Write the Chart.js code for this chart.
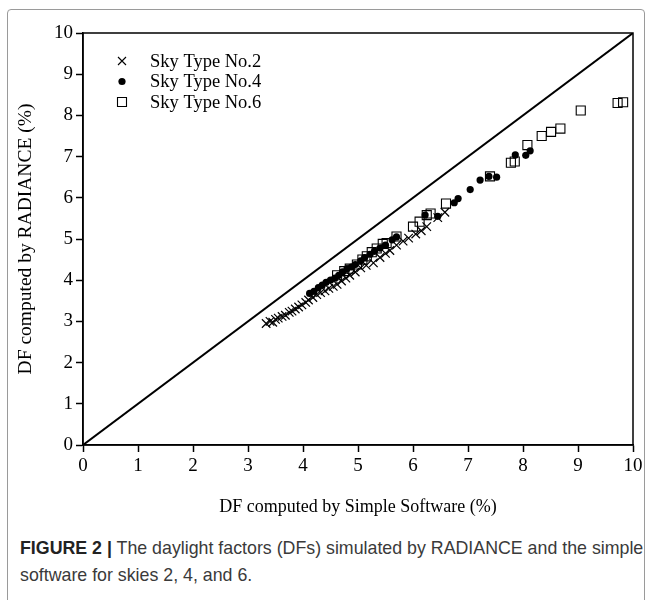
<!DOCTYPE html>
<html>
<head>
<meta charset="utf-8">
<script src="https://cdn.jsdelivr.net/npm/chart.js@4.4.1/dist/chart.umd.min.js"></script>
<style>
  body { margin: 0; background: #fff; width: 652px; height: 600px; position: relative; overflow: hidden; }
  #frame { position: absolute; left: 7px; top: 9px; width: 636px; height: 600px; border: 1.5px solid #9a9a9a; border-radius: 4px; }
  #wrap { position: absolute; left: 0; top: 0; width: 652px; height: 520px; }
  #caption { position: absolute; left: 20px; top: 535px; font-family: "Liberation Sans", Arial, sans-serif; font-size: 17.8px; line-height: 27px; color: #3a3a3a; white-space: nowrap; }
  #caption b { color: #222; }
</style>
</head>
<body>
<div id="frame"></div>
<div id="wrap"><canvas id="dfChart"></canvas></div>
<div id="caption"><b>FIGURE 2 |</b> The daylight factors (DFs) simulated by RADIANCE and the simple<br>software for skies 2, 4, and 6.</div>
<script>
const axisTicks = [0, 1, 2, 3, 4, 5, 6, 7, 8, 9, 10];

// Sky Type No.2 (crosses)
const sky2X = [3.33, 3.40, 3.45, 3.50, 3.55, 3.62, 3.68, 3.75, 3.80, 3.86, 3.92, 3.98, 4.05, 4.10, 4.18, 4.25, 4.32, 4.40, 4.47, 4.55, 4.62, 4.70, 4.78, 4.85, 4.95, 5.05, 5.15, 5.28, 5.40, 5.50, 5.58, 5.70, 5.82, 5.92, 6.05, 6.15, 6.25, 6.45, 6.58];
const sky2Y = [2.95, 3.00, 2.98, 3.05, 3.08, 3.12, 3.15, 3.22, 3.25, 3.30, 3.35, 3.40, 3.46, 3.52, 3.58, 3.65, 3.70, 3.74, 3.80, 3.85, 3.90, 3.98, 4.05, 4.12, 4.20, 4.30, 4.36, 4.42, 4.55, 4.65, 4.72, 4.85, 4.95, 5.02, 5.12, 5.20, 5.30, 5.52, 5.65];

// Sky Type No.4 (dots)
const sky4X = [4.12, 4.20, 4.28, 4.35, 4.42, 4.50, 4.58, 4.65, 4.72, 4.80, 4.88, 4.95, 5.05, 5.12, 5.22, 5.30, 5.40, 5.50, 5.62, 5.70, 6.22, 6.45, 6.75, 6.82, 7.04, 7.22, 7.38, 7.52, 7.86, 8.05, 8.13];
const sky4Y = [3.68, 3.73, 3.82, 3.88, 3.95, 4.00, 4.05, 4.12, 4.20, 4.28, 4.32, 4.38, 4.47, 4.55, 4.63, 4.70, 4.78, 4.85, 4.98, 5.05, 5.58, 5.55, 5.88, 5.98, 6.20, 6.43, 6.52, 6.50, 7.04, 7.03, 7.14];

// Sky Type No.6 (squares)
const sky6X = [4.62, 4.75, 4.85, 4.98, 5.08, 5.16, 5.25, 5.34, 5.45, 5.52, 5.70, 6.00, 6.12, 6.25, 6.32, 6.60, 7.40, 7.78, 7.85, 8.08, 8.34, 8.51, 8.68, 9.05, 9.72, 9.82];
const sky6Y = [4.12, 4.22, 4.28, 4.38, 4.50, 4.58, 4.68, 4.77, 4.88, 4.90, 5.06, 5.30, 5.42, 5.58, 5.62, 5.86, 6.52, 6.85, 6.88, 7.28, 7.50, 7.60, 7.68, 8.12, 8.30, 8.32];

const legendNames = ["Sky Type No.2", "Sky Type No.4", "Sky Type No.6"];

function toPoints(xs, ys) {
  return xs.map(function (x, i) { return { x: x, y: ys[i] }; });
}

const serif = '"Liberation Serif", "Times New Roman", serif';

// draws the marker shapes for the legend by hand
function drawMarker(ctx, kind, x, y) {
  ctx.save();
  ctx.strokeStyle = "#000";
  ctx.fillStyle = "#000";
  ctx.lineWidth = 1.1;
  ctx.beginPath();
  if (kind === 0) {
    ctx.moveTo(x - 4, y - 4); ctx.lineTo(x + 4, y + 4);
    ctx.moveTo(x + 4, y - 4); ctx.lineTo(x - 4, y + 4);
    ctx.stroke();
  } else if (kind === 1) {
    ctx.arc(x, y, 3.6, 0, Math.PI * 2);
    ctx.fill();
  } else {
    ctx.rect(x - 4.5, y - 4.5, 9, 9);
    ctx.stroke();
  }
  ctx.restore();
}

const framePlugin = {
  id: "frameAndLegend",
  afterDraw: function (chart) {
    const ctx = chart.ctx;
    const area = chart.chartArea;
    ctx.save();
    ctx.strokeStyle = "#000";
    ctx.lineWidth = 1.5;
    ctx.strokeRect(area.left, area.top, area.right - area.left, area.bottom - area.top);

    ctx.font = "18.5px " + serif;
    ctx.fillStyle = "#000";
    ctx.textBaseline = "middle";
    legendNames.forEach(function (name, i) {
      const y = area.top + 28 + i * 20.5;
      drawMarker(ctx, i, area.left + 39, y);
      ctx.fillText(name, area.left + 67, y + 1);
    });
    ctx.restore();
  }
};

const dfChart = new Chart(document.getElementById("dfChart"), {
  type: "scatter",
  data: {
    datasets: [
      {
        label: legendNames[0],
        data: toPoints(sky2X, sky2Y),
        pointStyle: "crossRot",
        pointRadius: 6,
        borderColor: "#000",
        borderWidth: 1.2
      },
      {
        label: legendNames[1],
        data: toPoints(sky4X, sky4Y),
        pointStyle: "circle",
        pointRadius: 3.6,
        borderWidth: 0,
        backgroundColor: "#000",
        borderColor: "#000"
      },
      {
        label: legendNames[2],
        data: toPoints(sky6X, sky6Y),
        pointStyle: "rect",
        pointRadius: 6.4,
        borderWidth: 1.1,
        borderColor: "#000",
        backgroundColor: "rgba(0,0,0,0)"
      },
      {
        type: "line",
        label: "1:1",
        data: [{ x: 0, y: 0 }, { x: 10, y: 10 }],
        borderColor: "#000",
        borderWidth: 2,
        pointRadius: 0,
        fill: false
      }
    ]
  },
  options: {
    responsive: true,
    maintainAspectRatio: false,
    animation: false,
    events: [],
    layout: { padding: { left: 8, right: 19, top: 33, bottom: 0 } },
    plugins: {
      legend: { display: false },
      tooltip: { enabled: false }
    },
    scales: {
      x: {
        type: "linear",
        min: 0,
        max: 10,
        afterBuildTicks: function (scale) {
          scale.ticks = axisTicks.map(function (v) { return { value: v }; });
        },
        afterFit: function (scale) { scale.height = 75; },
        grid: { drawOnChartArea: false, drawTicks: true, tickLength: 7, tickWidth: 1.5, color: "#000" },
        border: { display: true, color: "#000", width: 1.5 },
        ticks: { color: "#000", padding: 3, maxRotation: 0, font: { family: serif, size: 19 } },
        title: {
          display: true,
          text: "DF computed by Simple Software (%)",
          color: "#000",
          font: { family: serif, size: 18 },
          padding: { top: 0, bottom: 2 }
        }
      },
      y: {
        type: "linear",
        min: 0,
        max: 10,
        afterBuildTicks: function (scale) {
          scale.ticks = axisTicks.map(function (v) { return { value: v }; });
        },
        afterFit: function (scale) { scale.width = 75; },
        grid: { drawOnChartArea: false, drawTicks: true, tickLength: 7, tickWidth: 1.5, color: "#000" },
        border: { display: true, color: "#000", width: 1.5 },
        ticks: { color: "#000", padding: 3, font: { family: serif, size: 19 } },
        title: {
          display: true,
          text: "DF computed by RADIANCE (%)",
          color: "#000",
          font: { family: serif, size: 19.5 },
          padding: { top: 6, bottom: 0 }
        }
      }
    }
  },
  plugins: [framePlugin]
});
</script>
</body>
</html>
